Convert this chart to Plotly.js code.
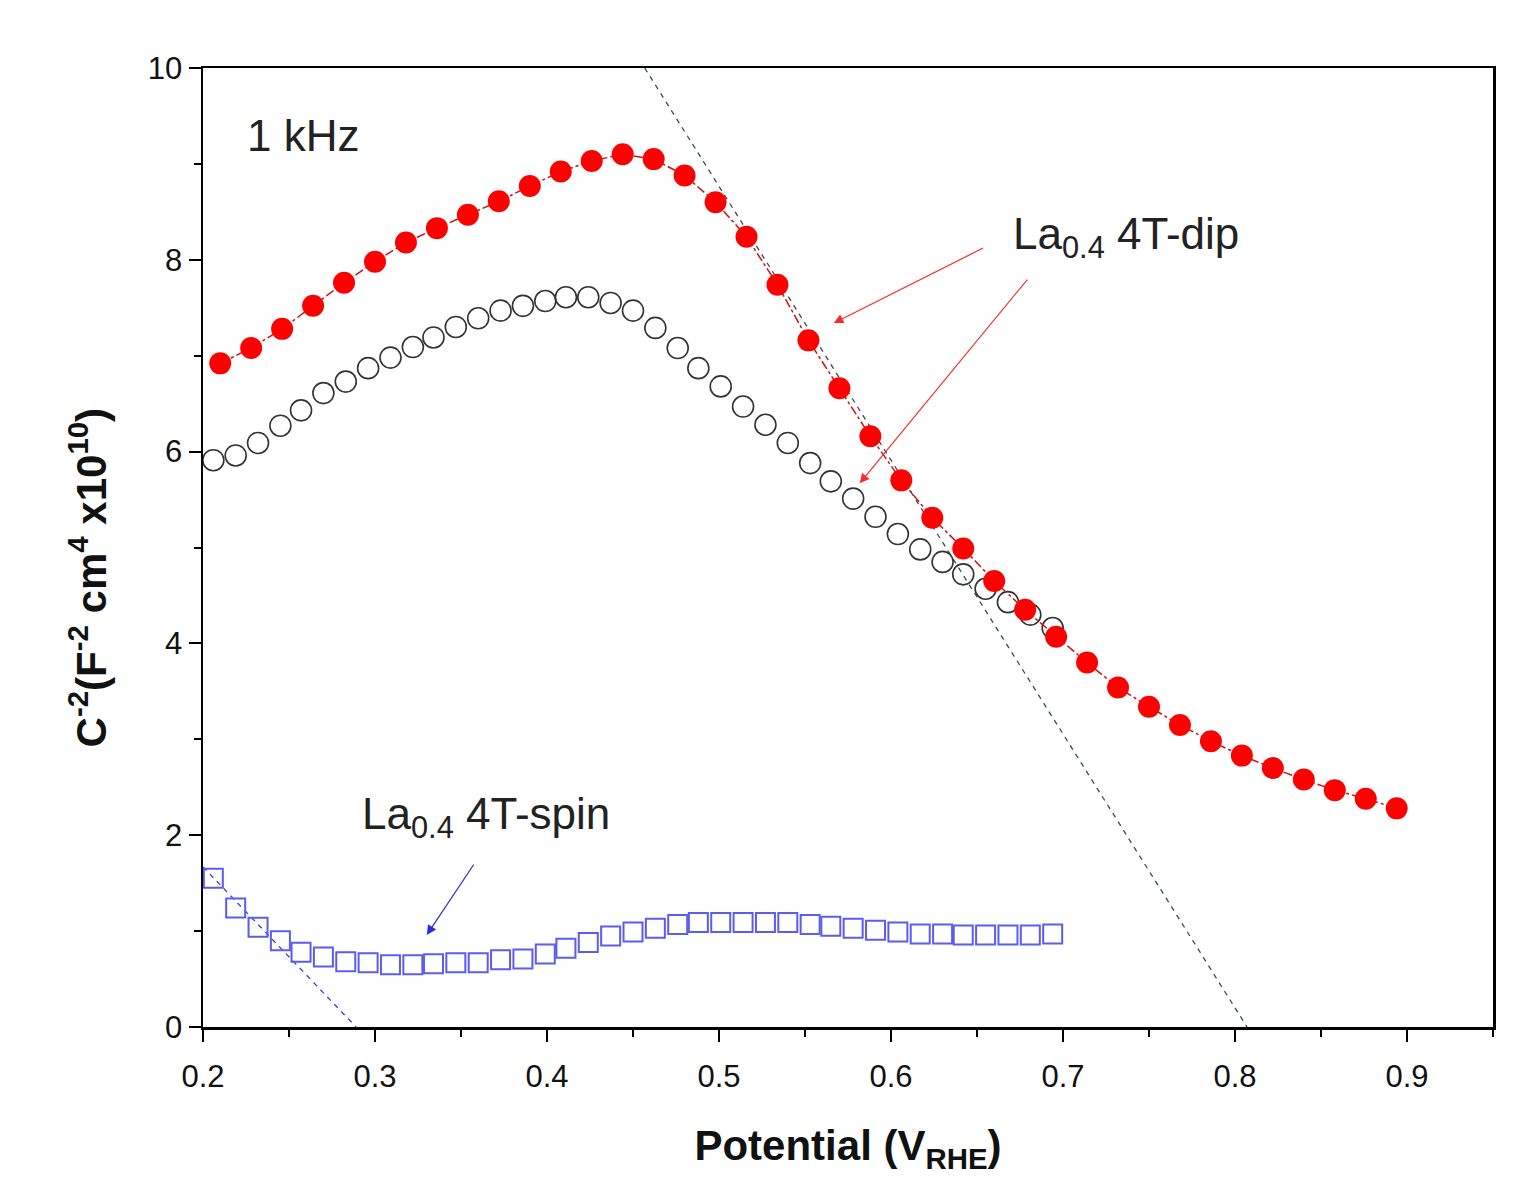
<!DOCTYPE html>
<html>
<head>
<meta charset="utf-8">
<script src="https://cdn.plot.ly/plotly-3.0.1.min.js"></script>
<style>
  html, body { margin: 0; padding: 0; background: #fff; }
  #chart { width: 1530px; height: 1203px; }
</style>
</head>
<body>
<div id="chart"></div>
<script>
// Mott-Schottky plot at 1 kHz.
const dipPotential = [0.210, 0.228, 0.246, 0.264, 0.282, 0.300, 0.318, 0.336, 0.354, 0.372,
  0.390, 0.408, 0.426, 0.444, 0.462, 0.480, 0.498, 0.516, 0.534, 0.552,
  0.570, 0.588, 0.606, 0.624, 0.642, 0.660, 0.678, 0.696, 0.714, 0.732,
  0.750, 0.768, 0.786, 0.804, 0.822, 0.840, 0.858, 0.876, 0.894];
const dipFilled = [6.92, 7.08, 7.28, 7.52, 7.76, 7.98, 8.18, 8.33, 8.47, 8.61,
  8.77, 8.92, 9.03, 9.10, 9.05, 8.88, 8.60, 8.24, 7.74, 7.16,
  6.66, 6.16, 5.70, 5.31, 4.99, 4.65, 4.35, 4.07, 3.80, 3.54,
  3.34, 3.15, 2.98, 2.83, 2.70, 2.58, 2.47, 2.38, 2.28];

const sweepPotential = [0.206, 0.219, 0.232, 0.245, 0.257, 0.270, 0.283, 0.296, 0.309, 0.322,
  0.334, 0.347, 0.360, 0.373, 0.386, 0.399, 0.411, 0.424, 0.437, 0.450,
  0.463, 0.476, 0.488, 0.501, 0.514, 0.527, 0.540, 0.553, 0.565, 0.578,
  0.591, 0.604, 0.617, 0.630, 0.642, 0.655, 0.668, 0.681, 0.694];
const dipOpen = [5.91, 5.96, 6.09, 6.27, 6.43, 6.61, 6.73, 6.87, 6.98, 7.09,
  7.19, 7.30, 7.39, 7.47, 7.52, 7.57, 7.61, 7.61, 7.55, 7.47,
  7.29, 7.08, 6.87, 6.68, 6.47, 6.28, 6.09, 5.88, 5.69, 5.51,
  5.32, 5.14, 4.98, 4.85, 4.72, 4.57, 4.43, 4.30, 4.16];
const spin = [1.55, 1.24, 1.04, 0.90, 0.78, 0.73, 0.68, 0.67, 0.65, 0.65,
  0.66, 0.67, 0.67, 0.70, 0.71, 0.76, 0.82, 0.88, 0.95, 0.99,
  1.03, 1.07, 1.09, 1.09, 1.09, 1.09, 1.09, 1.07, 1.05, 1.03,
  1.01, 0.99, 0.97, 0.97, 0.96, 0.96, 0.96, 0.96, 0.97];

// linear extrapolations (dashed)
const dipFitX = [0.4568, 0.807];
const dipFitY = [10, 0];
const spinFitX = [0.2, 0.289];
const spinFitY = [1.67, 0];

const fam = 'Liberation Sans, Arial, sans-serif';
const textFont = { family: fam, size: 44, color: '#222' };

const traces = [
  { x: dipFitX, y: dipFitY, type: 'scatter', mode: 'lines',
    line: { color: '#3a4a5a', width: 1.3, dash: '5px,5px' } },
  { x: spinFitX, y: spinFitY, type: 'scatter', mode: 'lines',
    line: { color: '#3b3bd6', width: 1.3, dash: '5px,5px' } },
  { x: sweepPotential, y: dipOpen, type: 'scatter', mode: 'markers',
    marker: { symbol: 'circle-open', size: 21, color: '#333', line: { width: 1.6, color: '#333' } } },
  { x: sweepPotential, y: spin, type: 'scatter', mode: 'markers',
    marker: { symbol: 'square-open', size: 19, color: '#5c5cf0', line: { width: 2, color: '#5c5cf0' } } },
  { x: dipPotential, y: dipFilled, type: 'scatter', mode: 'lines+markers',
    line: { color: '#d01010', width: 1.5, dash: 'dashdot' },
    marker: { symbol: 'circle', size: 22, color: '#ff0000' } },
];

const axisFont = { family: fam, size: 31, color: '#111' };
const titleFont = { family: fam, size: 42, color: '#111', weight: 'bold' };

const layout = {
  width: 1530, height: 1203,
  paper_bgcolor: '#fff', plot_bgcolor: '#fff',
  margin: { l: 203, r: 37, t: 68, b: 176 },
  showlegend: false,
  xaxis: {
    range: [0.2, 0.95], tick0: 0.2, dtick: 0.1, tickformat: '.1f',
    ticks: 'outside', ticklen: 12, tickwidth: 2, tickcolor: '#000', ticklabelstandoff: 8,
    minor: { dtick: 0.05, ticks: 'outside', ticklen: 7, tickwidth: 2, tickcolor: '#000', showgrid: false },
    showline: true, linewidth: 2.5, linecolor: '#000', mirror: true,
    showgrid: false, zeroline: false, tickfont: axisFont,
    title: { text: 'Potential (V<sub>RHE</sub>)', font: titleFont, standoff: 38 },
  },
  yaxis: {
    range: [0, 10], tick0: 0, dtick: 2,
    ticks: 'outside', ticklen: 12, tickwidth: 2, tickcolor: '#000',
    minor: { dtick: 1, ticks: 'outside', ticklen: 7, tickwidth: 2, tickcolor: '#000', showgrid: false },
    showline: true, linewidth: 2.5, linecolor: '#000', mirror: true,
    showgrid: false, zeroline: false, tickfont: axisFont,
  },
  annotations: [
    // y axis title, placed as an annotation so it can sit slightly below centre as in the original
    { x: -0.089, y: 0.468, xref: 'paper', yref: 'paper', textangle: -90, showarrow: false,
      text: 'C<sup>-2</sup>(F<sup>-2</sup> cm<sup>4</sup> x10<sup>10</sup>)',
      xanchor: 'center', yanchor: 'middle', font: titleFont },
    { x: 0.2242, y: 9.30, xref: 'x', yref: 'y', text: '1 kHz', showarrow: false,
      xanchor: 'left', yanchor: 'middle', font: textFont },
    { x: 0.670, y: 8.24, xref: 'x', yref: 'y', text: 'La<sub>0.4</sub> 4T-dip', showarrow: false,
      xanchor: 'left', yanchor: 'middle', font: textFont },
    { x: 0.291, y: 2.19, xref: 'x', yref: 'y', text: 'La<sub>0.4</sub> 4T-spin', showarrow: false,
      xanchor: 'left', yanchor: 'middle', font: textFont },
    { x: 0.5667, y: 7.34, ax: 0.6544, ay: 8.13, xref: 'x', yref: 'y', axref: 'x', ayref: 'y',
      text: '', showarrow: true, arrowhead: 2, arrowsize: 1.6, arrowwidth: 1.2, arrowcolor: '#f03030', standoff: 0 },
    { x: 0.5818, y: 5.67, ax: 0.680, ay: 7.81, xref: 'x', yref: 'y', axref: 'x', ayref: 'y',
      text: '', showarrow: true, arrowhead: 2, arrowsize: 1.6, arrowwidth: 1.2, arrowcolor: '#f03030', standoff: 0 },
    { x: 0.3301, y: 0.96, ax: 0.358, ay: 1.71, xref: 'x', yref: 'y', axref: 'x', ayref: 'y',
      text: '', showarrow: true, arrowhead: 2, arrowsize: 1.6, arrowwidth: 1.2, arrowcolor: '#2a2ae0', standoff: 0 },
  ],
};

Plotly.newPlot('chart', traces, layout, { staticPlot: true, displayModeBar: false });
</script>
</body>
</html>
